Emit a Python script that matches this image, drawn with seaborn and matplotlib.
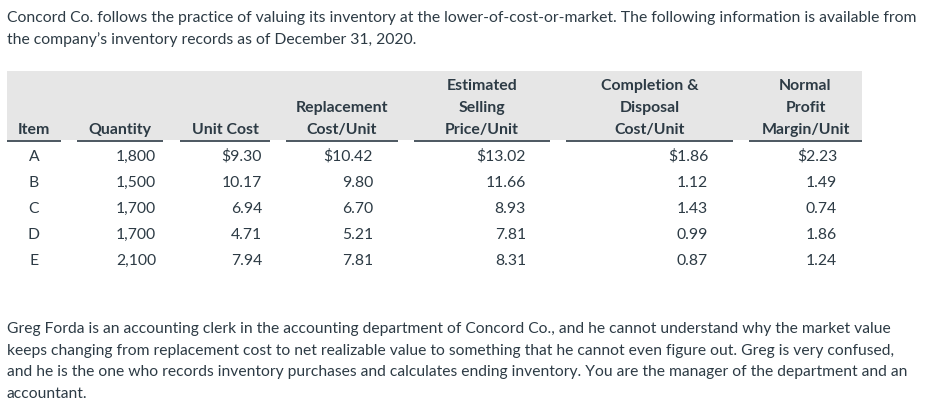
import matplotlib
matplotlib.use("Agg")
import matplotlib.pyplot as plt
import seaborn as sns

# ---- data ----
intro_lines = [
    "Concord Co. follows the practice of valuing its inventory at the lower-of-cost-or-market. The following information is available from",
    "the company\u2019s inventory records as of December 31, 2020.",
]
outro_lines = [
    "Greg Forda is an accounting clerk in the accounting department of Concord Co., and he cannot understand why the market value",
    "keeps changing from replacement cost to net realizable value to something that he cannot even figure out. Greg is very confused,",
    "and he is the one who records inventory purchases and calculates ending inventory. You are the manager of the department and an",
    "accountant.",
]
headers = [
    ["Item"],
    ["Quantity"],
    ["Unit Cost"],
    ["Replacement", "Cost/Unit"],
    ["Estimated", "Selling", "Price/Unit"],
    ["Completion &", "Disposal", "Cost/Unit"],
    ["Normal", "Profit", "Margin/Unit"],
]
items = ["A", "B", "C", "D", "E"]
quantity = ["1,800", "1,500", "1,700", "1,700", "2,100"]
unit_cost = ["$9.30", "10.17", "6.94", "4.71", "7.94"]
replacement = ["$10.42", "9.80", "6.70", "5.21", "7.81"]
selling = ["$13.02", "11.66", "8.93", "7.81", "8.31"]
completion = ["$1.86", "1.12", "1.43", "0.99", "0.87"]
margin = ["$2.23", "1.49", "0.74", "1.86", "1.24"]

# ---- layout ----
sns.set_style("white")
plt.rcParams["font.family"] = ["Lato", "DejaVu Sans"]
TXT = "#2d3b45"

W, H = 928, 408
fig = plt.figure(figsize=(W / 100, H / 100), dpi=100)
ax = fig.add_axes([0, 0, 1, 1])
ax.set_xlim(0, W)
ax.set_ylim(H, 0)
ax.axis("off")

renderer = fig.canvas.get_renderer()

def fit_size(text, target_w, weight="normal"):
    t = ax.text(0, 0, text, fontsize=10, fontweight=weight)
    w = t.get_window_extent(renderer).width
    t.remove()
    return 10 * target_w / w

# intro paragraph
fs_intro = fit_size(intro_lines[0], 907)
for i, line in enumerate(intro_lines):
    ax.text(7, 22 + 22 * i, line, fontsize=fs_intro, color=TXT, va="baseline", ha="left")

# table
seg = [(7, 61), (77, 163), (180, 270), (286, 398), (414, 550), (566, 733), (749, 862)]
band_top, band_bot = 71, 140
ax.add_patch(plt.Rectangle((7, band_top), 862 - 7, band_bot - band_top,
                           facecolor="#e6e6e6", edgecolor="none", zorder=0))
header_base = [90, 112, 134]
fs_hdr = fit_size("Replacement", 93, weight="bold")
fs_tab = fit_size("1,800", 40)
for (x0, x1), hdr in zip(seg, headers):
    cx = (x0 + x1) / 2
    n = len(hdr)
    for j, line in enumerate(hdr):
        y = header_base[3 - n + j]
        ax.text(cx, y, line, fontsize=fs_hdr, fontweight="bold", color=TXT,
                ha="center", va="baseline")
    ax.plot([x0, x1], [141, 141], color=TXT, lw=1.2, solid_capstyle="butt")

row_base = [161, 187, 213, 239, 265]
item_cx = 34
right_edges = [156, 262, 373, 526, 708, 837]
cols = [quantity, unit_cost, replacement, selling, completion, margin]
for r, yb in enumerate(row_base):
    ax.text(item_cx, yb, items[r], fontsize=fs_tab, color=TXT, ha="center", va="baseline")
    for xr, col in zip(right_edges, cols):
        ax.text(xr, yb, col[r], fontsize=fs_tab, color=TXT, ha="right", va="baseline")

# closing paragraph
fs_out = fit_size(outro_lines[2], 900)
for i, line in enumerate(outro_lines):
    ax.text(7, 333 + 21.7 * i, line, fontsize=fs_out, color=TXT, va="baseline", ha="left")

fig.savefig("out.png", dpi=100, facecolor="white")
